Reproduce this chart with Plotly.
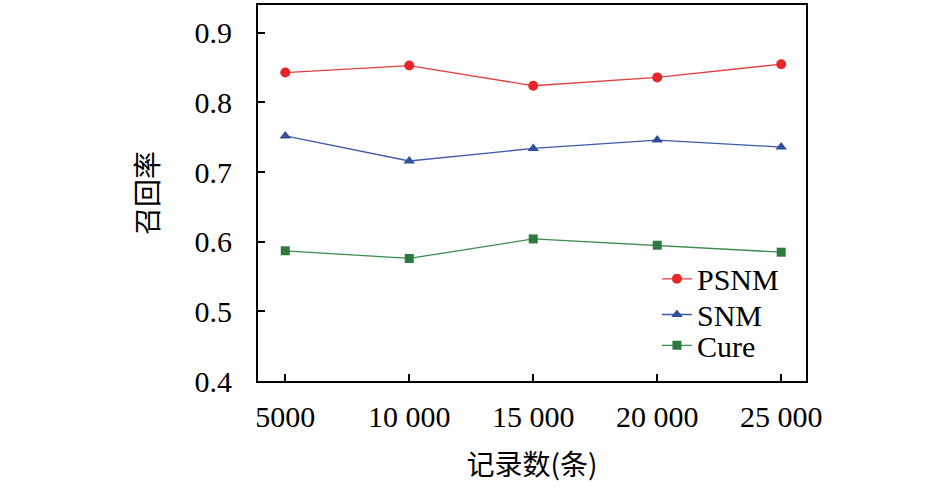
import plotly.graph_objects as go

records = [5000, 10000, 15000, 20000, 25000]
tick_labels = ["5000", "10 000", "15 000", "20 000", "25 000"]
psnm = [0.843, 0.853, 0.824, 0.836, 0.855]
snm = [0.752, 0.716, 0.734, 0.746, 0.736]
cure = [0.587, 0.576, 0.604, 0.595, 0.585]

font_main = "Liberation Serif"
font_cjk = "Noto Sans CJK SC"

fig = go.Figure()
fig.add_trace(go.Scatter(x=records, y=psnm, name="PSNM", mode="lines+markers",
                         line=dict(color="#e2403f", width=1.3),
                         marker=dict(symbol="circle", size=10, color="#e8262a"),
                         legend="legend"))
fig.add_trace(go.Scatter(x=records, y=snm, name="SNM", mode="lines+markers",
                         line=dict(color="#3d5aa8", width=1.3),
                         marker=dict(symbol="triangle-up", size=10, color="#2f4f9a"),
                         legend="legend2"))
fig.add_trace(go.Scatter(x=records, y=cure, name="Cure", mode="lines+markers",
                         line=dict(color="#3e8a4e", width=1.3),
                         marker=dict(symbol="square", size=9, color="#2d7a3e"),
                         legend="legend3"))

leg_common = dict(xanchor="left", yanchor="top", bgcolor="rgba(0,0,0,0)",
                  font=dict(size=30, family=font_main), itemwidth=30)

fig.update_layout(
    width=945, height=491,
    margin=dict(l=258, r=139, t=3, b=110),
    paper_bgcolor="white", plot_bgcolor="white",
    font=dict(family=font_main, size=30, color="black"),
    showlegend=True,
    legend=dict(x=0.728, y=0.341, **leg_common),
    legend2=dict(x=0.728, y=0.246, **leg_common),
    legend3=dict(x=0.728, y=0.164, **leg_common),
    xaxis=dict(range=[3900, 26000], tickvals=records, ticktext=tick_labels,
               ticks="inside", ticklen=7, tickwidth=1.5, tickcolor="black",
               showline=True, linecolor="black", linewidth=2, mirror=True,
               showgrid=False, zeroline=False, ticklabelstandoff=8,
               tickfont=dict(family=font_main, size=30),
               title=dict(text="记录数(条)", standoff=23,
                          font=dict(family=font_cjk, size=28))),
    yaxis=dict(range=[0.4, 0.94], tickvals=[0.4, 0.5, 0.6, 0.7, 0.8, 0.9],
               ticktext=["0.4", "0.5", "0.6", "0.7", "0.8", "0.9"],
               ticks="inside", ticklen=7, tickwidth=1.5, tickcolor="black",
               showline=True, linecolor="black", linewidth=2, mirror=True,
               showgrid=False, zeroline=False, ticklabelstandoff=18,
               tickfont=dict(family=font_main, size=30),
               title=dict(text="召回率", standoff=28,
                          font=dict(family=font_cjk, size=28))),
)

fig.write_html("out.html", config={"displayModeBar": False},
               post_script="document.body.style.margin='0px';")
